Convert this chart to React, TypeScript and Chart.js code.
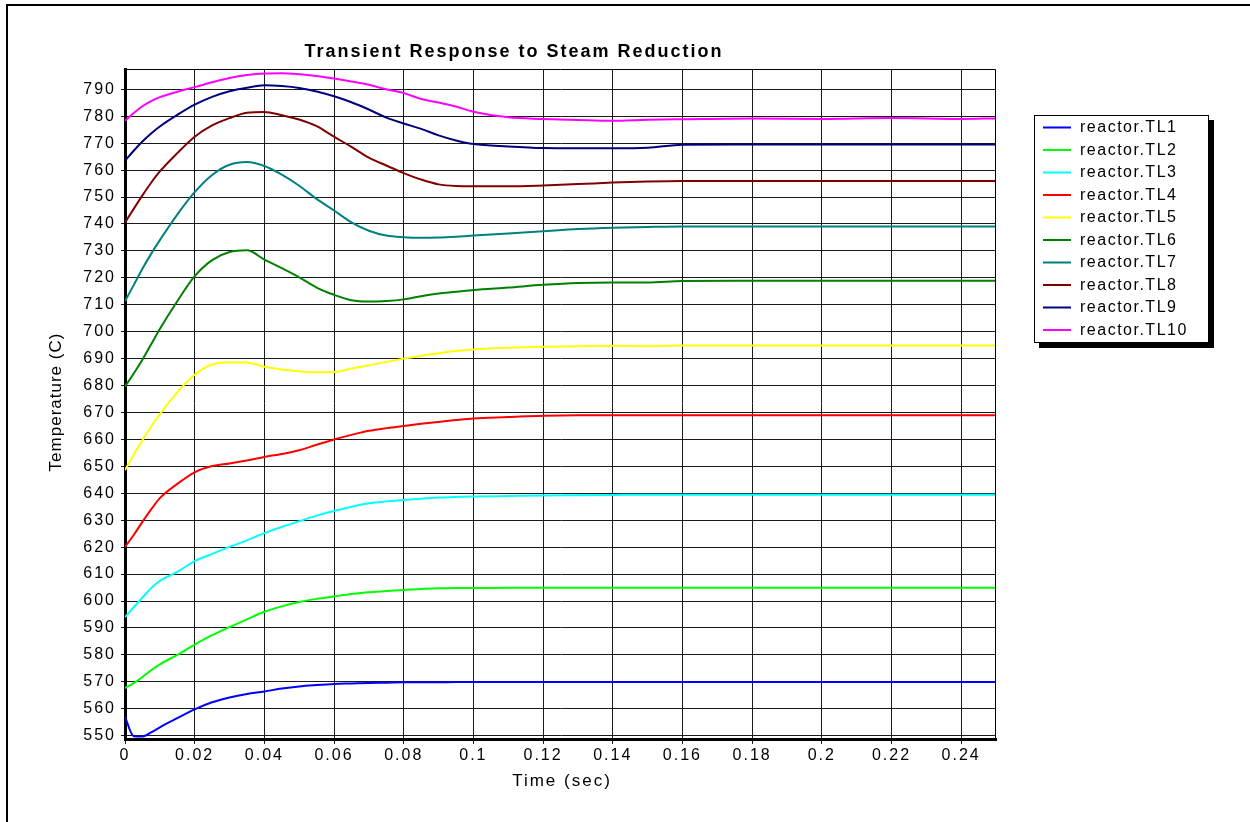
import { useEffect, useRef } from 'react';
import { Chart, registerables } from 'chart.js';

Chart.register(...registerables);

const FONT = "'Liberation Sans', Arial, Helvetica, sans-serif";

const chartTitle = 'Transient Response to Steam Reduction';
const xAxisTitle = 'Time (sec)';
const yAxisTitle = 'Temperature (C)';

const timeSec = [0, 0.0025, 0.005, 0.0075, 0.01, 0.015, 0.02, 0.025, 0.03, 0.035, 0.04, 0.045, 0.05, 0.055, 0.06, 0.065, 0.07, 0.075, 0.08, 0.085, 0.09, 0.095, 0.1, 0.11, 0.12, 0.13, 0.14, 0.15, 0.16, 0.18, 0.2, 0.22, 0.24, 0.25];

const xTickValues = [0, 0.02, 0.04, 0.06, 0.08, 0.1, 0.12, 0.14, 0.16, 0.18, 0.2, 0.22, 0.24];
const yTickValues = [550, 560, 570, 580, 590, 600, 610, 620, 630, 640, 650, 660, 670, 680, 690, 700, 710, 720, 730, 740, 750, 760, 770, 780, 790];

const TL1 = [557.0, 549.8, 549.7, 551.2, 553.1, 556.5, 559.8, 562.4, 564.2, 565.5, 566.4, 567.5, 568.3, 568.8, 569.2, 569.4, 569.6, 569.7, 569.8, 569.8, 569.8, 569.9, 569.9, 569.9, 569.9, 569.9, 569.9, 569.9, 569.9, 569.9, 569.9, 569.9, 569.9, 569.9];
const TL2 = [567.7, 569.5, 571.8, 574.3, 576.5, 580.0, 583.8, 587.3, 590.3, 593.2, 596.0, 598.0, 599.6, 600.8, 601.7, 602.6, 603.3, 603.7, 604.1, 604.5, 604.7, 604.8, 604.8, 604.9, 604.9, 604.9, 604.9, 604.9, 604.9, 604.9, 604.9, 604.9, 604.9, 604.9];
const TL3 = [594.0, 597.7, 601.3, 604.8, 607.5, 610.8, 614.8, 617.5, 620.1, 622.5, 625.2, 627.5, 629.6, 631.7, 633.4, 635.0, 636.3, 637.0, 637.5, 638.0, 638.4, 638.6, 638.8, 639.0, 639.2, 639.3, 639.4, 639.5, 639.5, 639.5, 639.5, 639.5, 639.5, 639.5];
const TL4 = [620.1, 624.5, 629.4, 634.0, 638.2, 643.5, 647.8, 650.1, 651.1, 652.2, 653.5, 654.6, 656.0, 658.0, 660.0, 661.7, 663.2, 664.2, 665.0, 665.8, 666.5, 667.2, 667.8, 668.3, 668.8, 669.0, 669.0, 669.0, 669.0, 669.0, 669.0, 669.0, 669.0, 669.0];
const TL5 = [648.6, 654.3, 659.7, 664.8, 669.4, 677.5, 684.0, 687.8, 688.7, 688.6, 687.0, 686.0, 685.3, 684.9, 685.0, 686.3, 687.5, 688.8, 690.0, 691.1, 692.0, 692.8, 693.4, 694.0, 694.4, 694.6, 694.8, 694.6, 694.9, 694.9, 694.9, 694.9, 694.9, 694.9];
const TL6 = [679.6, 684.5, 689.6, 695.3, 701.0, 711.3, 720.6, 726.6, 729.6, 730.2, 726.8, 723.6, 720.2, 716.4, 713.7, 711.7, 711.2, 711.4, 712.0, 713.2, 714.2, 714.8, 715.5, 716.4, 717.4, 718.1, 718.3, 718.3, 718.8, 718.9, 718.9, 718.9, 718.9, 718.9];
const TL7 = [711.3, 717.3, 723.4, 728.9, 734.0, 743.5, 751.8, 758.2, 762.0, 763.0, 761.5, 758.3, 754.2, 749.3, 745.0, 740.6, 737.5, 735.7, 735.1, 734.9, 735.0, 735.3, 735.7, 736.5, 737.3, 738.1, 738.6, 738.9, 739.1, 739.1, 739.1, 739.1, 739.1, 739.1];
const TL8 = [740.5, 745.6, 750.6, 755.3, 759.5, 766.3, 772.4, 776.6, 779.3, 781.3, 781.6, 780.4, 778.8, 776.3, 772.4, 768.6, 764.6, 761.7, 758.9, 756.5, 754.7, 754.1, 754.0, 754.0, 754.3, 754.8, 755.4, 755.8, 756.0, 756.0, 756.0, 756.0, 756.0, 756.0];
const TL9 = [763.5, 767.2, 770.6, 773.6, 776.2, 780.5, 784.3, 787.2, 789.3, 790.6, 791.5, 791.2, 790.5, 789.2, 787.4, 785.2, 782.5, 779.5, 777.3, 775.3, 772.9, 771.0, 769.7, 768.8, 768.2, 768.1, 768.1, 768.3, 769.4, 769.5, 769.5, 769.5, 769.5, 769.5];
const TL10 = [778.3, 781.2, 783.7, 785.6, 787.1, 789.1, 790.8, 792.6, 794.2, 795.3, 795.9, 796.0, 795.6, 794.9, 794.0, 792.9, 791.7, 790.0, 788.6, 786.4, 785.1, 783.6, 781.7, 779.6, 779.0, 778.6, 778.3, 778.7, 778.9, 779.2, 779.0, 779.3, 779.0, 779.2];

const seriesNames = ['reactor.TL1', 'reactor.TL2', 'reactor.TL3', 'reactor.TL4', 'reactor.TL5', 'reactor.TL6', 'reactor.TL7', 'reactor.TL8', 'reactor.TL9', 'reactor.TL10'];
const seriesColors = ['#0000FF', '#00FF00', '#00FFFF', '#FF0000', '#FFFF00', '#008000', '#008080', '#800000', '#000080', '#FF00FF'];
const seriesValues = [TL1, TL2, TL3, TL4, TL5, TL6, TL7, TL8, TL9, TL10];

const decorPlugin = {
  id: 'decor',
  beforeDraw(chart: any) {
    const ctx = chart.ctx as any;
    ctx.save();
    ctx.fillStyle = '#ffffff';
    ctx.fillRect(0, 0, chart.width, chart.height);
    ctx.restore();
    ctx.letterSpacing = '2px';
  },
  afterDraw(chart: any) {
    const ctx = chart.ctx as any;
    const { left, top, right, bottom } = chart.chartArea;
    ctx.save();
    // outer frame
    ctx.fillStyle = '#000';
    ctx.fillRect(6, 4, 2, chart.height - 4);
    ctx.fillRect(6, 4, chart.width - 6, 2);
    // plot box top / right
    ctx.strokeStyle = '#000';
    ctx.lineWidth = 1;
    ctx.beginPath();
    ctx.moveTo(left, Math.round(top) + 0.5);
    ctx.lineTo(Math.round(right) - 0.5, Math.round(top) + 0.5);
    ctx.lineTo(Math.round(right) - 0.5, bottom);
    ctx.stroke();

    // chart title
    ctx.fillStyle = '#000';
    ctx.letterSpacing = '2px';
    ctx.font = `bold 18px ${FONT}`;
    ctx.textAlign = 'center';
    ctx.textBaseline = 'alphabetic';
    ctx.fillText(chartTitle, 514, 56.5);

    // x axis title
    ctx.font = `17px ${FONT}`;
    ctx.fillText(xAxisTitle, 562, 786);

    // y axis title
    ctx.save();
    ctx.letterSpacing = '1px';
    ctx.translate(60.5, 402);
    ctx.rotate(-Math.PI / 2);
    ctx.fillText(yAxisTitle, 0, 0);
    ctx.restore();

    // legend
    const lx = 1034, ly = 115, lw = 175, lh = 228;
    ctx.fillStyle = '#000';
    ctx.fillRect(lx + 5, ly + 5, lw, lh);
    ctx.fillStyle = '#fff';
    ctx.fillRect(lx, ly, lw, lh);
    ctx.strokeStyle = '#000';
    ctx.lineWidth = 1;
    ctx.strokeRect(lx + 0.5, ly + 0.5, lw - 1, lh - 1);
    ctx.font = `16px ${FONT}`;
    ctx.letterSpacing = '1.5px';
    ctx.textAlign = 'left';
    ctx.textBaseline = 'middle';
    chart.data.datasets.forEach((ds: any, i: number) => {
      const y = 127.5 + i * 22.5;
      ctx.strokeStyle = ds.borderColor;
      ctx.lineWidth = 2;
      ctx.beginPath();
      ctx.moveTo(1043, y);
      ctx.lineTo(1071, y);
      ctx.stroke();
      ctx.fillStyle = '#000';
      ctx.fillText(ds.label, 1080, y + 0.5);
    });
    ctx.restore();
  },
};

export default function App() {
  const ref = useRef<HTMLCanvasElement>(null);
  useEffect(() => {
    const datasets = seriesNames.map((name, i) => ({
      label: name,
      data: timeSec.map((t, j) => ({ x: t, y: seriesValues[i][j] })),
      borderColor: seriesColors[i],
      backgroundColor: seriesColors[i],
      borderWidth: 2,
      pointRadius: 0,
      pointHoverRadius: 0,
      cubicInterpolationMode: 'monotone' as const,
      fill: false,
    }));
    const chart = new Chart(ref.current as HTMLCanvasElement, {
      type: 'line',
      data: { datasets },
      options: {
        responsive: false,
        animation: false,
        devicePixelRatio: 1,
        events: [],
        layout: { padding: { top: 69, right: 254, left: 0, bottom: 0 } },
        plugins: {
          legend: { display: false },
          title: { display: false },
          tooltip: { enabled: false },
        },
        scales: {
          x: {
            type: 'linear',
            min: 0,
            max: 0.25,
            afterBuildTicks: (s: any) => {
              s.ticks = xTickValues.map((v) => ({ value: v }));
            },
            afterFit: (s: any) => {
              s.height = 83;
            },
            grid: { color: '#1a1a1a', lineWidth: 1, tickLength: 5, drawTicks: true },
            border: { color: '#000', width: 3 },
            ticks: {
              color: '#000',
              font: { family: FONT, size: 16 },
              padding: 2,
              maxRotation: 0,
              autoSkip: false,
              callback: (v: any) => String(Number(Number(v).toFixed(3))),
            },
          },
          y: {
            type: 'linear',
            min: 548.77,
            max: 797.54,
            afterBuildTicks: (s: any) => {
              s.ticks = yTickValues.map((v) => ({ value: v }));
            },
            afterFit: (s: any) => {
              s.width = 125;
            },
            grid: { color: '#1a1a1a', lineWidth: 1, tickLength: 4, drawTicks: true },
            border: { color: '#000', width: 3 },
            ticks: {
              color: '#000',
              font: { family: FONT, size: 16 },
              padding: 5,
              autoSkip: false,
              callback: (v: any) => String(v),
            },
          },
        },
      },
      plugins: [decorPlugin],
    });
    return () => chart.destroy();
  }, []);
  return (
    <canvas
      ref={ref}
      width={1250}
      height={822}
      style={{ position: 'absolute', left: 0, top: 0, width: 1250, height: 822, display: 'block' }}
    />
  );
}
